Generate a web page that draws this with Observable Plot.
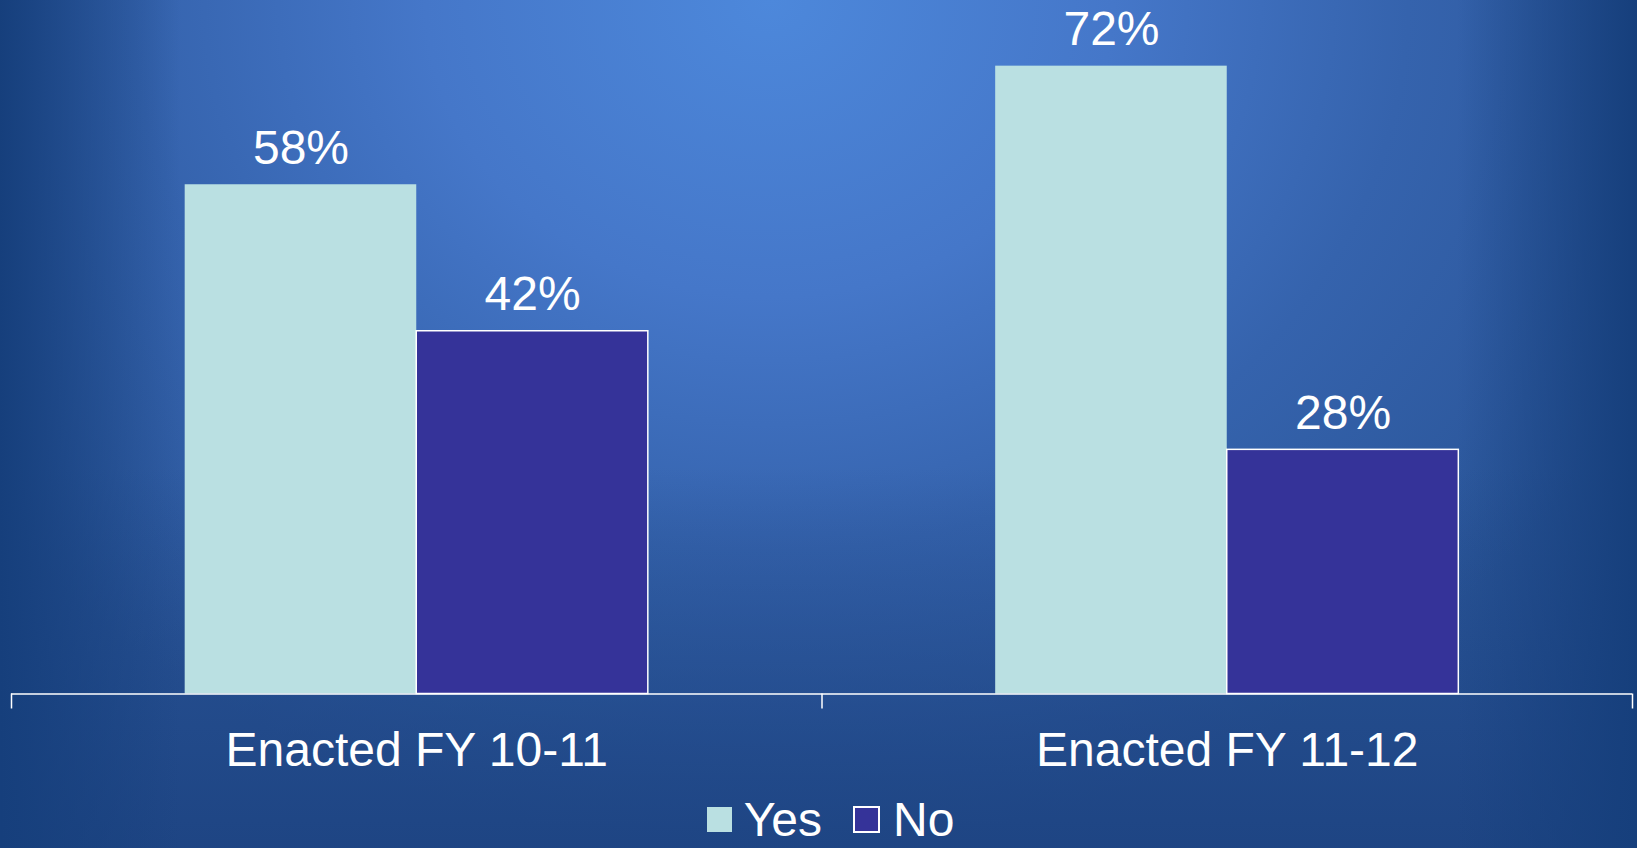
<!DOCTYPE html>
<html>
<head>
<meta charset="utf-8">
<script src="https://cdn.jsdelivr.net/npm/d3@7"></script>
<script src="https://cdn.jsdelivr.net/npm/@observablehq/plot@0.6"></script>
<style>
  html, body { margin: 0; padding: 0; }
  body {
    width: 1637px; height: 848px; overflow: hidden;
    font-family: "Liberation Sans", Arial, sans-serif;
    background:
      linear-gradient(to right, rgba(22,63,124,1) 0%, rgba(22,63,124,0) 11%, rgba(22,63,124,0) 89%, rgba(22,63,124,1) 100%),
      linear-gradient(to bottom, rgba(28,66,128,0) 55%, rgba(28,66,128,0.85) 100%),
      radial-gradient(ellipse 60% 100% at 47% 0%, #4d88db 0%, #4577c9 35%, #3563ad 65%, #2a5598 100%);
  }
  #chart svg { display: block; }
  #legend { margin-top: 2px; }
  div.lg-swatches { justify-content: center; padding-left: 56px; margin: 0 !important; min-height: 0 !important; }
  div.lg-swatches span.lg-swatch { margin-right: 32px !important; line-height: normal; }
  div.lg-swatches span.lg-swatch > svg { margin-right: 12px !important; }
  div.lg-swatches span.lg-swatch:last-of-type > svg { margin-right: 14px !important; }
  div.lg-swatches span.lg-swatch:last-of-type > svg rect { stroke: white; stroke-width: 2px; }
</style>
</head>
<body>
<div id="chart"></div>
<div id="legend"></div>
<script>
const categories = ["Enacted FY 10-11", "Enacted FY 11-12"];
const series = ["Yes", "No"];
const yesValues = [58.4, 72];
const noValues = [41.6, 28];
const colors = ["#bae0e2", "#353399"];

const data = categories.flatMap((c, i) => [
  {category: c, gi: i, series: "Yes", value: yesValues[i]},
  {category: c, gi: i, series: "No", value: noValues[i]}
]);

// position of each series within a category group
const inner = d3.scaleBand().domain(series).range([0, 1]).paddingInner(0).paddingOuter(0.75);
const x1 = d => d.gi + inner(d.series);
const x2 = d => d.gi + inner(d.series) + inner.bandwidth();
const xm = d => d.gi + inner(d.series) + inner.bandwidth() / 2;

const chart = Plot.plot({
  width: 1637,
  height: 790,
  marginLeft: 11,
  marginRight: 5,
  marginTop: 0,
  marginBottom: 96.5,
  style: {background: "transparent", color: "white", fontFamily: "'Liberation Sans', Arial, sans-serif", fontSize: "48px", overflow: "visible"},
  x: {domain: [0, categories.length]},
  y: {domain: [0, 79.53], axis: null},
  color: {domain: series, range: colors},
  marks: [
    Plot.rect(data.filter(d => d.series === "Yes"), {x1, x2, y1: 0, y2: "value", fill: "series"}),
    Plot.rect(data.filter(d => d.series === "No"), {x1, x2, y1: 0, y2: "value", fill: "series", stroke: "white", strokeWidth: 1.5}),
    Plot.text(data, {x: xm, y: "value", text: d => Math.round(d.value) + "%", dy: -21, lineAnchor: "bottom", fontSize: 48, fill: "white"}),
    Plot.ruleY([0], {stroke: "white", strokeWidth: 1.5}),
    Plot.axisX({ticks: d3.range(categories.length + 1), tickSize: 15, tickFormat: () => "", stroke: "white", strokeWidth: 1.5, strokeOpacity: 1}),
    Plot.text(categories, {x: (d, i) => i + 0.5, y: 0, text: d => d, dy: 72, lineAnchor: "bottom", fontSize: 48, fill: "white"})
  ]
});
document.getElementById("chart").appendChild(chart);

const legend = Plot.legend({
  color: {domain: series, range: colors},
  swatchSize: 25,
  className: "lg",
  style: {fontFamily: "'Liberation Sans', Arial, sans-serif", fontSize: "48px", color: "white", background: "transparent"}
});
document.getElementById("legend").appendChild(legend);
</script>
</body>
</html>
